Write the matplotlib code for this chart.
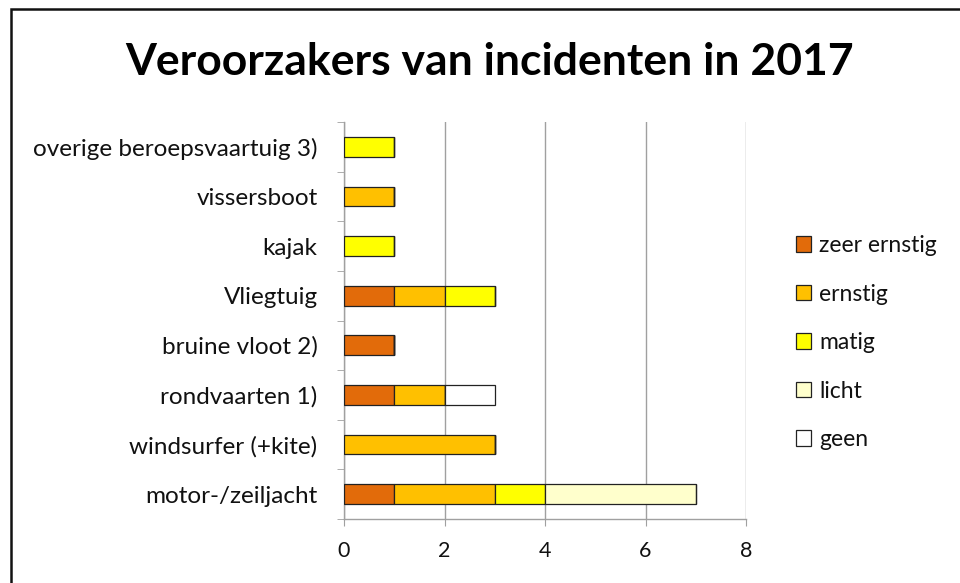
import matplotlib
matplotlib.use("Agg")
import matplotlib.pyplot as plt
from matplotlib.patches import Rectangle, Patch
import numpy as np

plt.rcParams['font.family'] = ['Lato', 'DejaVu Sans']

categories = ["motor-/zeiljacht", "windsurfer (+kite)", "rondvaarten 1)", "bruine vloot 2)",
              "Vliegtuig", "kajak", "vissersboot", "overige beroepsvaartuig 3)"]
series_names = ["zeer ernstig", "ernstig", "matig", "licht", "geen"]
zeer_ernstig = [1, 0, 1, 1, 1, 0, 0, 0]
ernstig      = [2, 3, 1, 0, 1, 0, 1, 0]
matig        = [1, 0, 0, 0, 1, 1, 0, 1]
licht        = [3, 0, 0, 0, 0, 0, 0, 0]
geen         = [0, 0, 1, 0, 0, 0, 0, 0]
colors = ["#E26B0A", "#FFC000", "#FFFF00", "#FFFFCC", "#FFFFFF"]
xticks = [0, 2, 4, 6, 8]

gray = "#A0A0A0"
fig = plt.figure(figsize=(9.6, 5.83), dpi=100)
ax = fig.add_axes([344/960, 1-519/583, (746-344)/960, (519-122)/583])

y = np.arange(len(categories))
left = np.zeros(len(categories))
for name, vals, c in zip(series_names, [zeer_ernstig, ernstig, matig, licht, geen], colors):
    vals = np.array(vals, dtype=float)
    ax.barh(y, vals, left=left, height=0.4, color=c, edgecolor="#222222", linewidth=0.9, label=name, zorder=3)
    left += vals

ax.set_xlim(0, 8)
ax.set_ylim(-0.5, len(categories)-0.5)
ax.set_xticks(xticks)
ax.set_xticklabels([str(t) for t in xticks], fontsize=15.5)
ax.set_yticks(y)
ax.set_yticklabels(categories, fontsize=17.5)
ax.set_yticks(np.arange(-0.5, len(categories), 1), minor=True)
ax.tick_params(axis='y', which='major', length=0, pad=19, labelcolor="#111111")
ax.tick_params(axis='y', which='minor', length=5, color=gray, direction='out')
ax.tick_params(axis='x', which='major', length=5, color=gray, direction='out', pad=11, labelcolor="#111111")
ax.grid(axis='x', color=gray, linewidth=1, zorder=0)
for s in ['top', 'right']:
    ax.spines[s].set_visible(False)
for s in ['left', 'bottom']:
    ax.spines[s].set_color(gray)
    ax.spines[s].set_linewidth(1)

fig.text(490/960, 1-62/583, "Veroorzakers van incidenten in 2017", fontsize=32, fontweight='bold',
         ha='center', va='center')

handles = [Patch(facecolor=c, edgecolor="#222222", linewidth=0.9) for c in colors]
fig.legend(handles, series_names, loc='upper left', bbox_to_anchor=(787/960, 1-226/583),
           frameon=False, fontsize=16.5, handlelength=0.65, handleheight=0.65, handletextpad=0.35,
           labelspacing=1.2, borderaxespad=0, labelcolor="#111111")

fig.patches.append(Rectangle((10.5/960, -0.1), 1.2, 1-9/583+0.1, transform=fig.transFigure,
                             fill=False, edgecolor="#111111", linewidth=1.8))

fig.savefig("out.png", dpi=100)
